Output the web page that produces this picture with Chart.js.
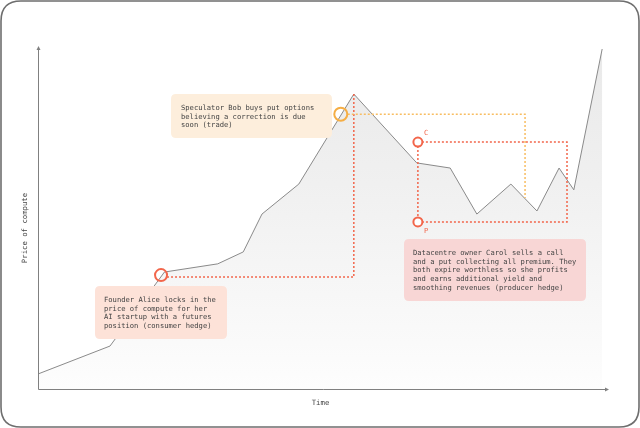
<!DOCTYPE html>
<html>
<head>
<meta charset="utf-8">
<script src="https://cdn.jsdelivr.net/npm/chart.js@4"></script>
<style>
html,body{margin:0;padding:0;background:#fff;}
canvas{display:block;}
</style>
</head>
<body>
<canvas id="c" width="640" height="428"></canvas>
<script>
// ---- data (arbitrary units) ----
const timeValues  = [0, 12.7, 22.3, 31.7, 36.2, 39.5, 46.0, 55.7, 66.8, 72.7, 77.4, 83.4, 88.0, 91.9, 94.5, 99.5];
const priceValues = [4.4, 12.6, 34.3, 36.7, 40.2, 51.3, 60.1, 86.5, 66.3, 64.8, 51.3, 60.1, 52.2, 64.8, 58.4, 99.7];

const axisTitles = { x: "Time", y: "Price of compute" };

// annotation markers (data units)
const aliceMarker = { x: 21.7, y: 33.4 };
const aliceGuide  = { x: 55.7, y: 86.5 };      // dotted line to the peak
const bobMarker   = { x: 53.4, y: 80.6 };
const bobGuide    = { x: 85.9, y: 56.0 };
const callMarker  = { x: 67.0, y: 72.4 };
const putMarker   = { x: 67.0, y: 49.0 };
const optionsRight = 93.3;

const aliceText = ["Founder Alice locks in the", "price of compute for her", "AI startup with a futures", "position (consumer hedge)"];
const bobText   = ["Speculator Bob buys put options", "believing a correction is due", "soon (trade)"];
const carolText = ["Datacentre owner Carol sells a call", "and a put collecting all premium. They", "both expire worthless so she profits", "and earns additional yield and", "smoothing revenues (producer hedge)"];

const MONO = '"DejaVu Sans Mono", "Liberation Mono", monospace';
const RED = '#f2664b';
const ORANGE = '#f5ae45';

function roundRect(ctx, x, y, w, h, r) {
  ctx.beginPath();
  ctx.moveTo(x + r, y);
  ctx.lineTo(x + w - r, y);
  ctx.quadraticCurveTo(x + w, y, x + w, y + r);
  ctx.lineTo(x + w, y + h - r);
  ctx.quadraticCurveTo(x + w, y + h, x + w - r, y + h);
  ctx.lineTo(x + r, y + h);
  ctx.quadraticCurveTo(x, y + h, x, y + h - r);
  ctx.lineTo(x, y + r);
  ctx.quadraticCurveTo(x, y, x + r, y);
  ctx.closePath();
}

const framePlugin = {
  id: 'frame',
  beforeDraw(chart) {
    const ctx = chart.ctx;
    ctx.save();
    ctx.fillStyle = '#fff';
    ctx.fillRect(0, 0, chart.width, chart.height);
    ctx.restore();
  },
  afterDraw(chart) {
    const ctx = chart.ctx;
    const xs = chart.scales.x, ys = chart.scales.y;
    const X = v => xs.getPixelForValue(v), Y = v => ys.getPixelForValue(v);
    const a = chart.chartArea;
    ctx.save();

    // outer frame
    ctx.strokeStyle = '#6e6e6e';
    ctx.lineWidth = 1.6;
    roundRect(ctx, 1, 1, chart.width - 2, chart.height - 2, 20);
    ctx.stroke();

    // axes
    ctx.strokeStyle = '#808080';
    ctx.lineWidth = 1;
    ctx.beginPath();
    ctx.moveTo(a.left + 0.5, a.top);
    ctx.lineTo(a.left + 0.5, a.bottom + 0.5);
    ctx.lineTo(a.right + 3, a.bottom + 0.5);
    ctx.stroke();
    ctx.fillStyle = '#808080';
    ctx.beginPath();
    ctx.moveTo(a.right + 4, a.bottom + 0.5);
    ctx.lineTo(a.right, a.bottom - 1.5);
    ctx.lineTo(a.right, a.bottom + 2.5);
    ctx.closePath();
    ctx.fill();
    ctx.beginPath();
    ctx.moveTo(a.left + 0.5, a.top - 2);
    ctx.lineTo(a.left - 1.5, a.top + 2);
    ctx.lineTo(a.left + 2.5, a.top + 2);
    ctx.closePath();
    ctx.fill();

    // axis titles
    ctx.fillStyle = '#444';
    ctx.font = '7.3px ' + MONO;
    ctx.textAlign = 'center';
    ctx.textBaseline = 'middle';
    ctx.fillText(axisTitles.x, (a.left + a.right) / 2 - 1, 403);
    ctx.save();
    ctx.translate(25, 228);
    ctx.rotate(-Math.PI / 2);
    ctx.fillText(axisTitles.y, 0, 0);
    ctx.restore();

    // dotted guides
    ctx.lineWidth = 1.5;
    ctx.setLineDash([2, 2]);
    // Alice
    ctx.strokeStyle = RED;
    ctx.beginPath();
    ctx.moveTo(X(aliceMarker.x) + 6, Y(aliceMarker.y) + 2);
    ctx.lineTo(X(aliceGuide.x), Y(aliceMarker.y) + 2);
    ctx.lineTo(X(aliceGuide.x), Y(aliceGuide.y));
    ctx.stroke();
    // Bob
    ctx.strokeStyle = '#f8bd62';
    ctx.beginPath();
    ctx.moveTo(X(bobMarker.x) + 7, Y(bobMarker.y));
    ctx.lineTo(X(bobGuide.x), Y(bobMarker.y));
    ctx.lineTo(X(bobGuide.x), Y(bobGuide.y));
    ctx.stroke();
    // Carol options box
    ctx.strokeStyle = RED;
    ctx.beginPath();
    ctx.moveTo(X(callMarker.x), Y(callMarker.y));
    ctx.lineTo(X(optionsRight), Y(callMarker.y));
    ctx.lineTo(X(optionsRight), Y(putMarker.y));
    ctx.lineTo(X(putMarker.x), Y(putMarker.y));
    ctx.lineTo(X(callMarker.x), Y(callMarker.y));
    ctx.stroke();
    ctx.setLineDash([]);

    // markers
    ctx.lineWidth = 2;
    ctx.strokeStyle = RED;
    ctx.beginPath(); ctx.arc(X(aliceMarker.x), Y(aliceMarker.y), 6, 0, Math.PI * 2); ctx.stroke();
    ctx.strokeStyle = ORANGE;
    ctx.beginPath(); ctx.arc(X(bobMarker.x), Y(bobMarker.y), 6.5, 0, Math.PI * 2); ctx.stroke();
    ctx.strokeStyle = RED;
    ctx.fillStyle = '#fff';
    ctx.beginPath(); ctx.arc(X(callMarker.x), Y(callMarker.y), 4.5, 0, Math.PI * 2); ctx.fill(); ctx.stroke();
    ctx.beginPath(); ctx.arc(X(putMarker.x), Y(putMarker.y), 4.5, 0, Math.PI * 2); ctx.fill(); ctx.stroke();
    ctx.fillStyle = RED;
    ctx.font = '7px ' + MONO;
    ctx.textAlign = 'left';
    ctx.fillText('C', X(callMarker.x) + 6, Y(callMarker.y) - 9);
    ctx.fillText('P', X(putMarker.x) + 6, Y(putMarker.y) + 9);

    // annotation boxes
    function box(x, y, w, h, color, lines, tx, ty) {
      ctx.fillStyle = color;
      roundRect(ctx, x, y, w, h, 5);
      ctx.fill();
      ctx.fillStyle = '#444';
      ctx.font = '7.15px ' + MONO;
      ctx.textAlign = 'left';
      ctx.textBaseline = 'middle';
      lines.forEach((l, i) => ctx.fillText(l, tx, ty + i * 8.7));
    }
    box(171, 94, 161, 44, '#fdeedc', bobText, 181, 108);
    box(95, 286, 132, 53, '#fde2d8', aliceText, 104, 300);
    box(404, 239, 182, 62, '#f8d6d5', carolText, 413, 253);

    ctx.restore();
  }
};

const ctx = document.getElementById('c').getContext('2d');
new Chart(ctx, {
  type: 'line',
  data: {
    datasets: [{
      data: timeValues.map((t, i) => ({ x: t, y: priceValues[i] })),
      borderColor: '#8a8a8a',
      borderWidth: 1,
      pointRadius: 0,
      tension: 0,
      fill: 'origin',
      backgroundColor: (c) => {
        const a = c.chart.chartArea;
        if (!a) return '#f0f0f0';
        const g = c.chart.ctx.createLinearGradient(0, a.top, 0, a.bottom);
        g.addColorStop(0, '#e9e9e9');
        g.addColorStop(0.4, '#f0f0f0');
        g.addColorStop(1, '#fdfdfd');
        return g;
      }
    }]
  },
  options: {
    responsive: false,
    animation: false,
    devicePixelRatio: 1,
    layout: { padding: { left: 38, right: 35, top: 48, bottom: 39 } },
    plugins: { legend: { display: false }, tooltip: { enabled: false } },
    scales: {
      x: { type: 'linear', min: 0, max: 100, display: false },
      y: { type: 'linear', min: 0, max: 100, display: false }
    }
  },
  plugins: [framePlugin]
});
</script>
</body>
</html>
